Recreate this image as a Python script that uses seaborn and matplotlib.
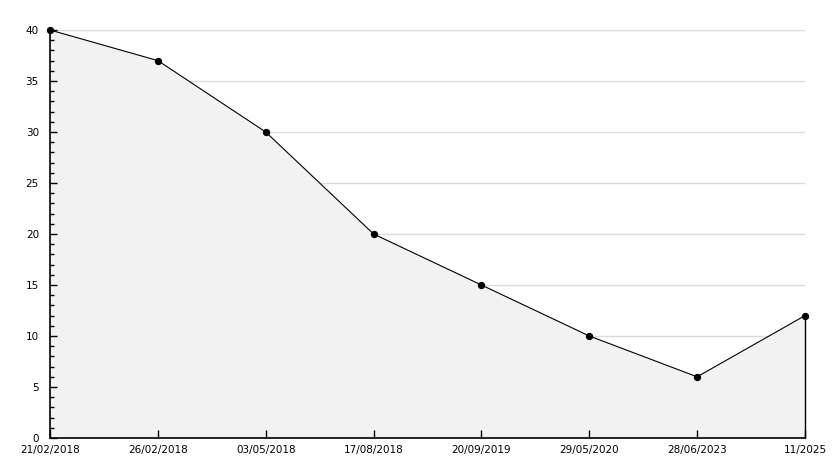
import numpy as np
import pandas as pd
import matplotlib
matplotlib.use("Agg")
import matplotlib.pyplot as plt
from matplotlib.ticker import MultipleLocator
import seaborn as sns

dates = ["21/02/2018", "26/02/2018", "03/05/2018", "17/08/2018",
         "20/09/2019", "29/05/2020", "28/06/2023", "11/2025"]
values = [40, 37, 30, 20, 15, 10, 6, 12]

df = pd.DataFrame({"pos": np.arange(len(dates)), "value": values})

sns.set_style("white")
plt.rcParams["font.family"] = ["DejaVu Sans"]
plt.rcParams["xtick.direction"] = "in"
plt.rcParams["ytick.direction"] = "in"

fig = plt.figure(figsize=(8.34, 4.68), dpi=100)
ax = fig.add_axes([50 / 834, 30 / 468, 755 / 834, 408 / 468])

ax.set_xlim(0, len(dates) - 1)
ax.set_ylim(0, 40)
ax.yaxis.set_major_locator(MultipleLocator(5))
ax.yaxis.set_minor_locator(MultipleLocator(1))

# horizontal grid lines, hidden under the filled area
for yv in ax.get_yticks()[1:]:
    ax.axhline(yv, color="#dcdcdc", lw=1, zorder=0.5)

ax.fill_between(df["pos"], 0, df["value"], color="#f2f2f2", lw=0, zorder=1)
ax.plot([df["pos"].iloc[-1]] * 2, [0, values[-1]], color="black", lw=1,
        zorder=2, clip_on=False)
sns.lineplot(data=df, x="pos", y="value", color="black", lw=0.8,
             marker="o", markersize=4.5, markeredgecolor="black", ax=ax,
             zorder=3, clip_on=False)

ax.set_xlim(0, len(dates) - 1)
ax.set_ylim(0, 40)
ax.set_xticks(df["pos"])
ax.set_xticklabels(dates)
ax.set_axisbelow(False)

for s in ["top", "right"]:
    ax.spines[s].set_visible(False)
for s in ["left", "bottom"]:
    ax.spines[s].set_color("black")
    ax.spines[s].set_linewidth(1.2)

ax.tick_params(axis="y", which="major", direction="in", length=5, width=1,
               labelsize=7.5, pad=8, left=True, color="black", labelcolor="black")
ax.tick_params(axis="y", which="minor", direction="in", length=3, width=1,
               left=True, color="black")
ax.tick_params(axis="x", which="major", direction="in", length=6, width=1,
               labelsize=7.5, pad=5, bottom=True, color="black", labelcolor="black")
ax.set_xlabel("")
ax.set_ylabel("")

fig.savefig("out.png", dpi=100)
